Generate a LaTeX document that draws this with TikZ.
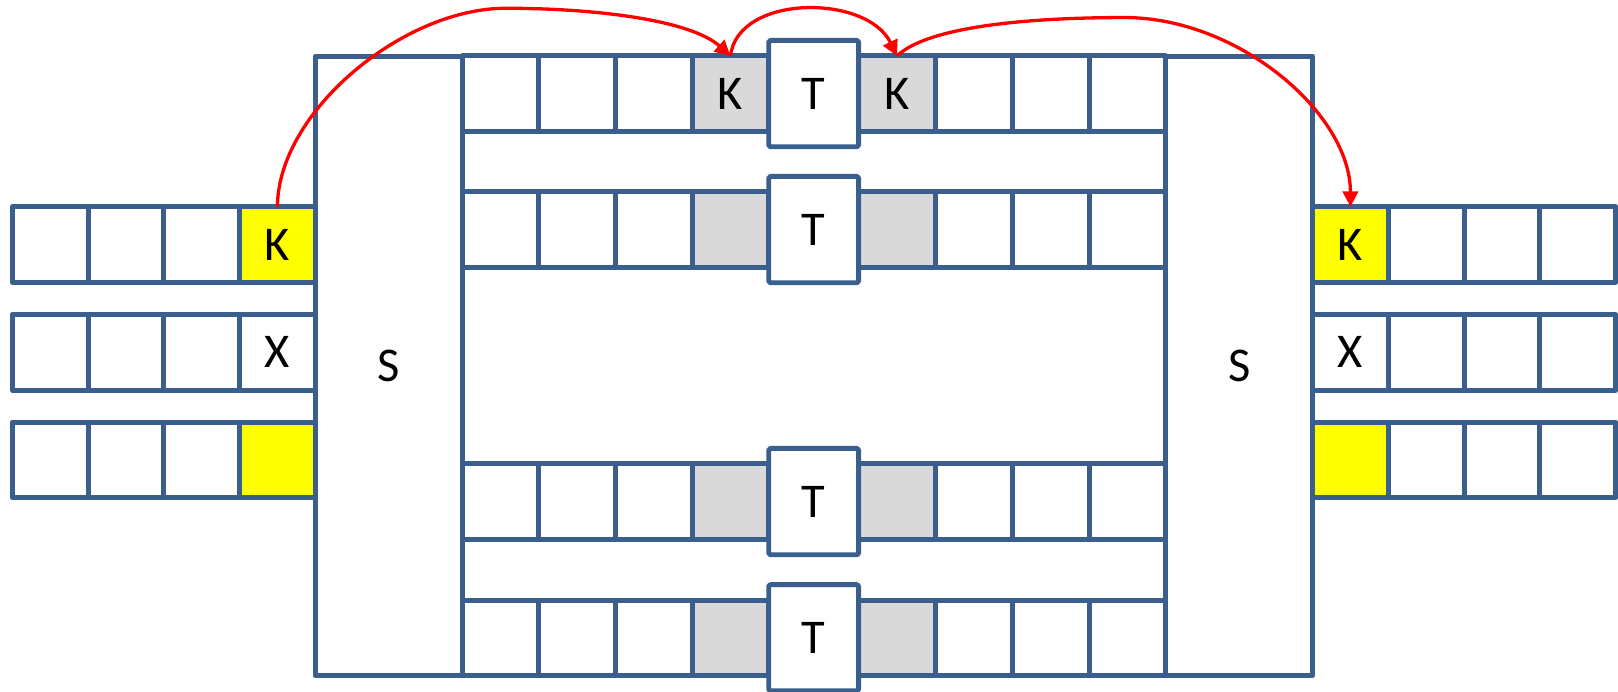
\documentclass[tikz,border=0pt]{standalone}
\usepackage{fontspec}
\setmainfont{Carlito}
\usetikzlibrary{arrows.meta}
\definecolor{bl}{RGB}{59,95,140}
\definecolor{gr}{RGB}{217,217,217}
\definecolor{yl}{RGB}{255,255,0}
\definecolor{rd}{RGB}{255,0,0}
\begin{document}
\begin{tikzpicture}[x=1pt,y=-1pt,
  base/.style={draw=bl,line width=4.8pt,line join=round,inner sep=0pt,outer sep=0pt,
    text=black,font=\fontsize{47}{50}\selectfont,fill=white},
  lcell/.style={base,minimum width=73.4pt,minimum height=73.3pt},
  ccell/.style={base,minimum width=74.3pt,minimum height=73pt},
  tbox/.style={base,rounded corners=1.5pt,minimum width=87pt,minimum height=103pt},
  sbox/.style={base,minimum width=142.4pt,minimum height=600.4pt},
  shade/.style={fill=gr},
  hl/.style={fill=yl},
  link/.style={draw=rd,line width=3.2pt,-{Triangle[length=15pt,width=15pt]}},
  plain/.style={draw=rd,line width=3.2pt}]
\useasboundingbox (0,0) rectangle (1568,670);

% S boxes
\node[sbox] (SL) at (376.8,354.5) {S};
\node[sbox] (SR) at (1201,354.5) {S};

% channel rows
\foreach \r/\y in {1/90.7,2/222.5,3/486.1,4/618.1}{
  \node[ccell] (c\r-1) at (485.1,\y) {};
  \node[ccell] (c\r-2) at (559.4,\y) {};
  \node[ccell] (c\r-3) at (633.6,\y) {};
  \node[ccell] (c\r-6) at (943.75,\y) {};
  \node[ccell] (c\r-7) at (1018.25,\y) {};
  \node[ccell] (c\r-8) at (1092.75,\y) {};
}
\node[ccell,shade] (tk1) at (707.9,90.7) {K};
\node[ccell,shade] (tk2) at (869.25,90.7) {K};
\node[ccell,shade] (g2a) at (707.9,222.5) {};
\node[ccell,shade] (g2b) at (869.25,222.5) {};
\node[ccell,shade] (g3a) at (707.9,486.1) {};
\node[ccell,shade] (g3b) at (869.25,486.1) {};
\node[ccell,shade] (g4a) at (707.9,618.1) {};
\node[ccell,shade] (g4b) at (869.25,618.1) {};
\node[tbox] (T1) at (788.5,90.7) {T};
\node[tbox] (T2) at (788.5,222.5) {T};
\node[tbox] (T3) at (788.5,486.1) {T};
\node[tbox] (T4) at (788.5,618.1) {T};

% left rows
\foreach \r/\y in {1/237,2/341.5,3/445.7}{
  \node[lcell] (l\r-1) at (48.7,\y) {};
  \node[lcell] (l\r-2) at (122.1,\y) {};
  \node[lcell] (l\r-3) at (195.5,\y) {};
}
\node[lcell,hl] (lk) at (268.9,237) {K};
\node[lcell] (lx) at (268.9,341.5) {X};
\node[lcell,hl] (ly) at (268.9,445.7) {};

% right rows
\foreach \r/\y in {1/237,2/341.5,3/445.7}{
  \node[lcell] (r\r-2) at (1382.1,\y) {};
  \node[lcell] (r\r-3) at (1455.5,\y) {};
  \node[lcell] (r\r-4) at (1528.9,\y) {};
}
\node[lcell,hl] (rk) at (1308.7,237) {K};
\node[lcell] (rx) at (1308.7,341.5) {X};
\node[lcell,hl] (ry) at (1308.7,445.7) {};

% red arrows
\draw[link] (lk.north) .. controls +(0,-91) and (390,8) .. (490,8)
  .. controls (580,8) and (670,20) .. (tk1.north);
\draw[link] (tk1.north) .. controls (715,-6) and (840,-6) .. (tk2.north);
\draw[link] (tk2.north) .. controls (900,25) and (1000,17) .. (1090,17)
  .. controls (1200,17) and (1308.7,110) .. (rk.north);
\end{tikzpicture}
\end{document}
